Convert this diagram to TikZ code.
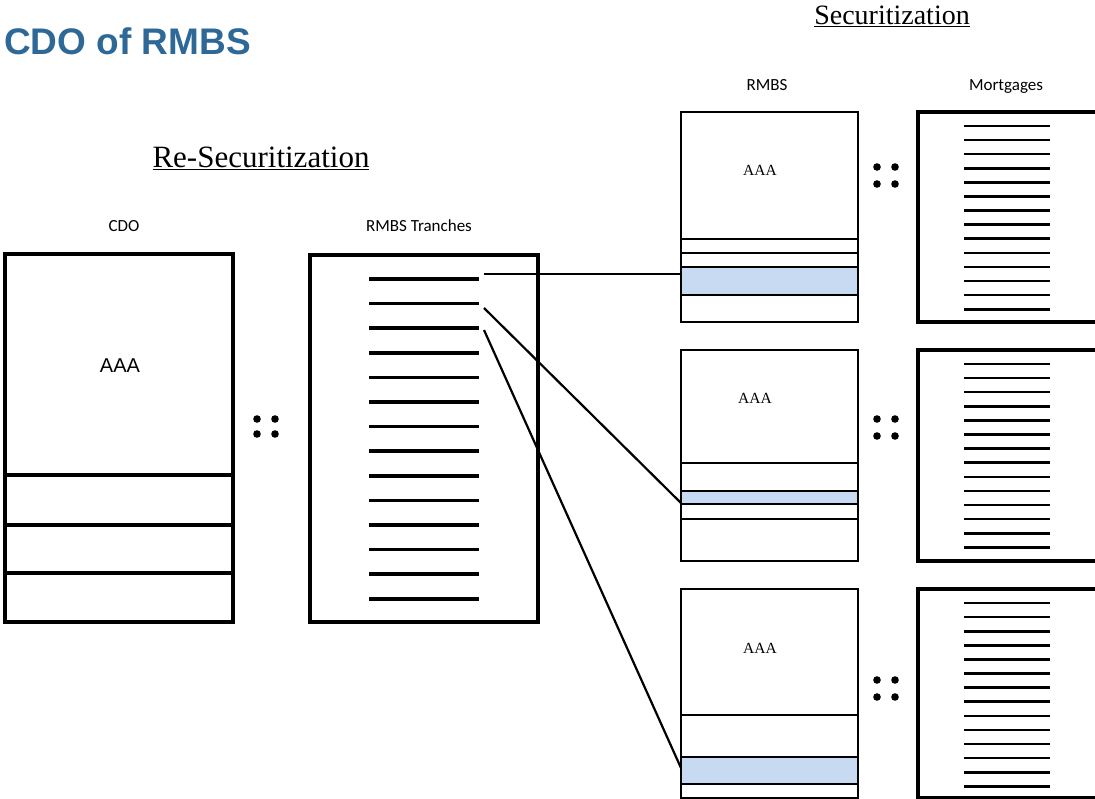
\documentclass[tikz,border=0pt]{standalone}
\usepackage{fontspec}
\setmainfont{Liberation Serif}
\newfontfamily\arialf{Liberation Sans}
\newfontfamily\carlf{Carlito}
\definecolor{titleblue}{RGB}{46,104,150}
\definecolor{shadeblue}{RGB}{200,218,242}
\begin{document}
\begin{tikzpicture}[x=1pt,y=-1pt,
  box/.style={draw, line width=2.9pt, anchor=north west, inner sep=0pt, outer sep=0pt, minimum width=177pt},
  bigbox/.style={draw, line width=3.3pt, anchor=north west, inner sep=0pt, outer sep=0pt},
  divider/.style={line width=2.6pt},
  tline/.style={line width=3.7pt},
  mline/.style={line width=2.6pt},
  conn/.style={line width=2.2pt},
  dot/.style={fill=black},
  smalllabel/.style={anchor=base, font=\carlf\fontsize{17}{20}\selectfont},
  aaa/.style={font=\fontsize{15.5}{18}\selectfont}]
\useasboundingbox (0,0) rectangle (1095,799);
\clip (0,0) rectangle (1095,799);

% titles
\node[anchor=base west, inner sep=0pt, text=titleblue, font=\arialf\bfseries\fontsize{37}{44}\selectfont] (title) at (4,55) {CDO of RMBS};
\node[anchor=base, inner sep=0pt, font=\fontsize{28}{32}\selectfont] (sec) at (892,25) {\underline{Securitization}};
\node[anchor=base, inner sep=0pt, font=\fontsize{31}{35}\selectfont] (resec) at (261,168) {\underline{Re-Securitization}};

% column labels
\node[smalllabel] (lcdo) at (124,232) {CDO};
\node[smalllabel] (ltr) at (419,232) {RMBS Tranches};
\node[smalllabel] (lrmbs) at (767,91) {RMBS};
\node[smalllabel] (lmort) at (1006,91) {Mortgages};

% CDO box
\node[bigbox, minimum width=228pt, minimum height=368pt] (cdo) at (5,254) {};
\foreach \yy in {475,525,573} \draw[divider, line width=3.3pt] (5,\yy) -- (235,\yy);
\node[font=\arialf\fontsize{20}{24}\selectfont] (cdoaaa) at (120,366) {AAA};
\foreach \xx in {257,275} \foreach \yy in {419,434} \fill[dot] (\xx,\yy) circle (3.8pt);

% RMBS tranches box
\node[bigbox, minimum width=228pt, minimum height=367pt] (tr) at (310,255) {};
\foreach \i in {0,...,13} \draw[tline] (369,{279+24.6*\i}) -- (479,{279+24.6*\i});

% RMBS boxes with shaded tranches
\fill[shadeblue] (681,267) rectangle (858,295);
\fill[shadeblue] (681,491) rectangle (858,504);
\fill[shadeblue] (681,757) rectangle (858,784);
\node[box, minimum height=210pt] (r1) at (681,112) {};
\node[box, minimum height=211pt] (r2) at (681,350) {};
\node[box, minimum height=209pt] (r3) at (681,589) {};
\foreach \yy in {239,253,267,295} \draw[divider] (681,\yy) -- (858,\yy);
\foreach \yy in {463,491,504,519} \draw[divider] (681,\yy) -- (858,\yy);
\foreach \yy in {715,757,784} \draw[divider] (681,\yy) -- (858,\yy);
\node[aaa] (a1) at (760,170) {AAA};
\node[aaa] (a2) at (755,398) {AAA};
\node[aaa] (a3) at (760,648) {AAA};

% dots between RMBS and mortgages
\foreach \yy in {167,184,419,436,680,697} \foreach \xx in {877,895} \fill[dot] (\xx,\yy) circle (3.8pt);

% Mortgage boxes
\node[bigbox, minimum width=190pt, minimum height=210pt] (m1) at (918,112) {};
\node[bigbox, minimum width=190pt, minimum height=211pt] (m2) at (918,350) {};
\node[bigbox, minimum width=190pt, minimum height=209pt] (m3) at (918,589) {};
\foreach \t in {126,364,603} \foreach \i in {0,...,13} \draw[mline] (964,{\t+14.1*\i}) -- (1050,{\t+14.1*\i});

% connectors
\coordinate (c1s) at (484,274);
\coordinate (c2s) at (484,308);
\coordinate (c3s) at (484,330);
\coordinate (c1e) at (r1.west |- c1s);
\coordinate (c2e) at (681,503);
\coordinate (c3e) at (681,768);
\draw[conn] (c1s) -- (c1e);
\draw[conn] (c2s) -- (c2e);
\draw[conn] (c3s) -- (c3e);
\end{tikzpicture}
\end{document}
